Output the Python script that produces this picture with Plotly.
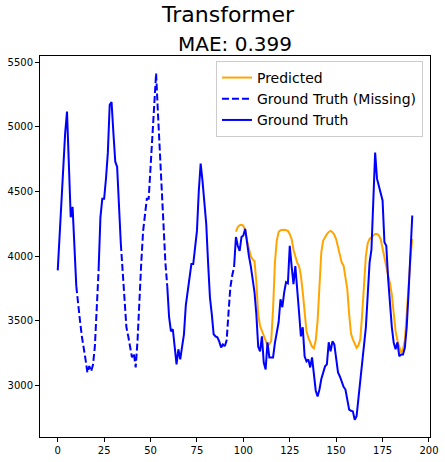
import numpy as np
import plotly.graph_objects as go

# Ground truth values, index 0..191
ground_truth = [
    3890, 4150, 4450, 4750, 4950, 5118, 4700, 4300, 4381, 4050,
    3768, 3600, 3500, 3380, 3300, 3200, 3100, 3150, 3110, 3160,
    3300, 3550, 3885, 4300, 4443, 4443, 4600, 4800, 5170, 5190,
    4950, 4730, 4690, 4400, 4094, 3850, 3650, 3450, 3380, 3303,
    3217, 3250, 3140, 3350, 3700, 3950, 4195, 4300, 4443, 4443,
    4700, 4971, 5250, 5413, 5100, 4800, 4550, 4273, 3950, 3768,
    3528, 3419, 3435, 3300, 3163, 3280, 3202, 3300, 3396, 3620,
    3720, 3800, 3939, 3939, 4050, 4195, 4505, 4715, 4580, 4420,
    4250, 3950, 3680, 3550, 3396, 3380, 3373, 3341, 3295, 3318,
    3303, 3350, 3560, 3760, 3850, 3916, 4148, 4080, 4040, 4148,
    4160, 4211, 4079, 4000, 3923, 3820, 3722, 3550, 3300, 3264,
    3380, 3178, 3124, 3334, 3217, 3217, 3217, 3330, 3420, 3489,
    3667, 3605, 3720, 3799, 3790, 4079, 3923, 3784, 3923, 3700,
    3566, 3380, 3450, 3225, 3186, 3202, 3140, 3217, 3070, 2960,
    2915, 2969, 3050, 3100, 3148, 3163, 3334, 3264, 3341, 3318,
    3200, 3101, 3070, 3030, 2990, 2969, 2900, 2814, 2805, 2800,
    2736, 2762, 2900, 3047, 3200, 3330, 3450, 3700, 3950, 4050,
    4400, 4800, 4599, 4547, 4480, 4430, 4107, 4081, 3823, 3600,
    3450, 3330, 3280, 3334, 3227, 3240, 3240, 3292, 3450, 3719,
    4000, 4314,
]

# Indices where the ground truth was missing (drawn dashed)
missing_ranges = [(11, 21), (35, 58), (91, 94)]

# Predicted values, index 96..191
pred_start = 96
predicted = [
    4190, 4225, 4240, 4242, 4235, 4200, 4120, 4050, 4000, 3975,
    3962, 3800, 3550, 3460, 3419, 3390, 3340, 3310, 3318, 3345,
    3590, 3950, 4120, 4187, 4200, 4203, 4203, 4200, 4195, 4170,
    4133, 4050, 3993, 3950, 3923, 3850, 3722, 3550, 3420, 3370,
    3341, 3300, 3287, 3350, 3500, 3722, 4032, 4120, 4148, 4170,
    4187, 4195, 4185, 4165, 4130, 4070, 3990, 3950, 3926, 3850,
    3745, 3550, 3400, 3357, 3320, 3292, 3310, 3357, 3550, 3800,
    4000, 4100, 4133, 4146, 4160, 4172, 4172, 4160, 4130, 4050,
    3978, 3920, 3850, 3790, 3700, 3538, 3420, 3350, 3290, 3253,
    3280, 3350, 3550, 3800, 3978, 4133,
]

title_text = "Transformer"
subtitle_text = "MAE: 0.399"
x_ticks = [0, 25, 50, 75, 100, 125, 150, 175, 200]
y_ticks = [3000, 3500, 4000, 4500, 5000, 5500]

n = len(ground_truth)
x = np.arange(n)
gt = np.array(ground_truth, dtype=float)
missing = np.zeros(n, dtype=bool)
for a, b in missing_ranges:
    missing[a:b + 1] = True

solid = np.where(missing, np.nan, gt)
dash_mask = missing.copy()
for a, b in missing_ranges:
    dash_mask[max(a - 1, 0)] = True
    dash_mask[min(b + 1, n - 1)] = True
dashed = np.where(dash_mask, gt, np.nan)

px_pred = np.arange(pred_start, pred_start + len(predicted))

FONT = "DejaVu Sans"
fig = go.Figure()
fig.add_trace(go.Scatter(x=px_pred, y=predicted, mode="lines", name="Predicted",
                         line=dict(color="#FFA500", width=2)))
fig.add_trace(go.Scatter(x=x, y=dashed, mode="lines", name="Ground Truth (Missing)",
                         line=dict(color="#0000FF", width=2, dash="7px,3px"),
                         connectgaps=False))
fig.add_trace(go.Scatter(x=x, y=solid, mode="lines", name="Ground Truth",
                         line=dict(color="#0000FF", width=2), connectgaps=False))

xmin, xmax = 0, n - 1
xpad = 0.05 * (xmax - xmin)
allv = np.concatenate([gt, np.array(predicted, float)])
ymin, ymax = allv.min(), allv.max()
ypad = 0.05 * (ymax - ymin)

axis_common = dict(showline=True, linecolor="black", linewidth=1, mirror=True,
                   ticks="outside", ticklen=4, tickcolor="black", tickwidth=1,
                   showgrid=False, zeroline=False, automargin=False,
                   tickfont=dict(family=FONT, size=10, color="black"))

fig.update_layout(
    width=445, height=462,
    margin=dict(l=40, r=15, t=56, b=25, autoexpand=False),
    paper_bgcolor="white", plot_bgcolor="white",
    font=dict(family=FONT, color="black"),
    xaxis=dict(range=[xmin - xpad, xmax + xpad], tickvals=x_ticks, **axis_common),
    yaxis=dict(range=[ymin - ypad, ymax + ypad], tickvals=y_ticks, **axis_common),
    legend=dict(x=0.982, y=0.987, xanchor="right", yanchor="top",
                bgcolor="white", bordercolor="#CCCCCC", borderwidth=1,
                font=dict(family=FONT, size=14, color="black"),
                itemwidth=30),
    showlegend=True,
    annotations=[
        dict(text=title_text, xref="paper", yref="paper", x=0.482, y=1,
             xanchor="center", yanchor="bottom", yshift=27, showarrow=False,
             font=dict(family=FONT, size=22, color="black")),
        dict(text=subtitle_text, xref="paper", yref="paper", x=0.5, y=1,
             xanchor="center", yanchor="bottom", yshift=-2, showarrow=False,
             font=dict(family=FONT, size=20, color="black")),
    ],
)

fig.write_html("out.html", config={"displayModeBar": False},
               post_script="document.body.style.margin='0';document.body.style.overflow='hidden';")
